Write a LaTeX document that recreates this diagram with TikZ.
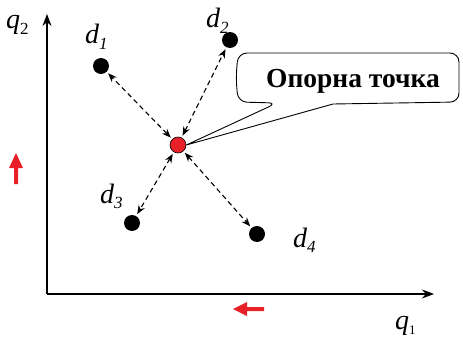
\documentclass[tikz,border=0pt]{standalone}
\usepackage{fontspec}
\setmainfont{Liberation Serif}
\usetikzlibrary{arrows.meta}
\definecolor{redpt}{RGB}{232,32,40}
\newcommand\mysub[2]{\raisebox{-0.2em}{\fontsize{#1}{#1}\selectfont #2}}
\tikzset{
  dot/.style={circle,fill=black,inner sep=0pt,minimum size=16pt},
  refdot/.style={circle,fill=redpt,draw=black,line width=0.6pt,inner sep=0pt,minimum size=16pt},
  lbl/.style={font=\fontsize{28}{30}\selectfont\itshape,inner sep=0pt,anchor=base west},
  dlink/.style={dashed,dash pattern=on 5pt off 3.5pt,line width=1.1pt,{Stealth[length=9pt,width=7pt]}-{Stealth[length=9pt,width=7pt]},shorten <=2pt,shorten >=2pt},
  axis/.style={line width=1.3pt,-{Stealth[length=12pt,width=9pt]}},
  redarrow/.style={fill=redpt,draw=none}
}
\begin{document}
\begin{tikzpicture}[x=1pt,y=-1pt]
\useasboundingbox (0,0) rectangle (463,337);
% axes
\coordinate (o) at (47,294);
\coordinate (ytip) at (47,14);
\coordinate (xtip) at (434,294);
\draw[axis] (o) -- (ytip);
\draw[axis] (o) -- (xtip);
\node[lbl] (q2) at (6,29) {q\mysub{17}{\upshape 2}};
\node[lbl] (q1) at (395,329) {q\mysub{13}{\upshape 1}};
% points
\node[dot] (d1) at (101,66) {};
\node[dot] (d2) at (230,40) {};
\node[dot] (d3) at (132,223) {};
\node[dot] (d4) at (257,234) {};
\node[refdot] (c) at (178,145) {};
\node[lbl] (l1) at (85,44) {d\mysub{17}{1}};
\node[lbl] (l2) at (206,28) {d\mysub{17}{2}};
\node[lbl] (l3) at (100,203) {d\mysub{17}{3}};
\node[lbl] (l4) at (293,247) {d\mysub{17}{4}};
% links
\draw[dlink] (c) -- (d1);
\draw[dlink] (c) -- (d2);
\draw[dlink] (c) -- (d3);
\draw[dlink] (c) -- (d4);
% callout
\draw[line width=0.9pt,rounded corners=9pt]
  (333,104) -- (459,102) -- (459,53) -- (238,53) -- (236,78) -- (238,102) -- (277,103)
  [sharp corners] -- (c.east) -- cycle;
\node[font=\fontsize{27.5}{30}\selectfont\bfseries,inner sep=0pt] (t) at (353,81) {Опорна точка};
% red arrows
\fill[redarrow] (14,184) -- (18,184) -- (18,168) -- (23,168) -- (16,153) -- (9,168) -- (14,168) -- cycle;
\fill[redarrow] (264,307) -- (264,311) -- (247,311) -- (247,316) -- (233,309) -- (247,302) -- (247,307) -- cycle;
\end{tikzpicture}
\end{document}
